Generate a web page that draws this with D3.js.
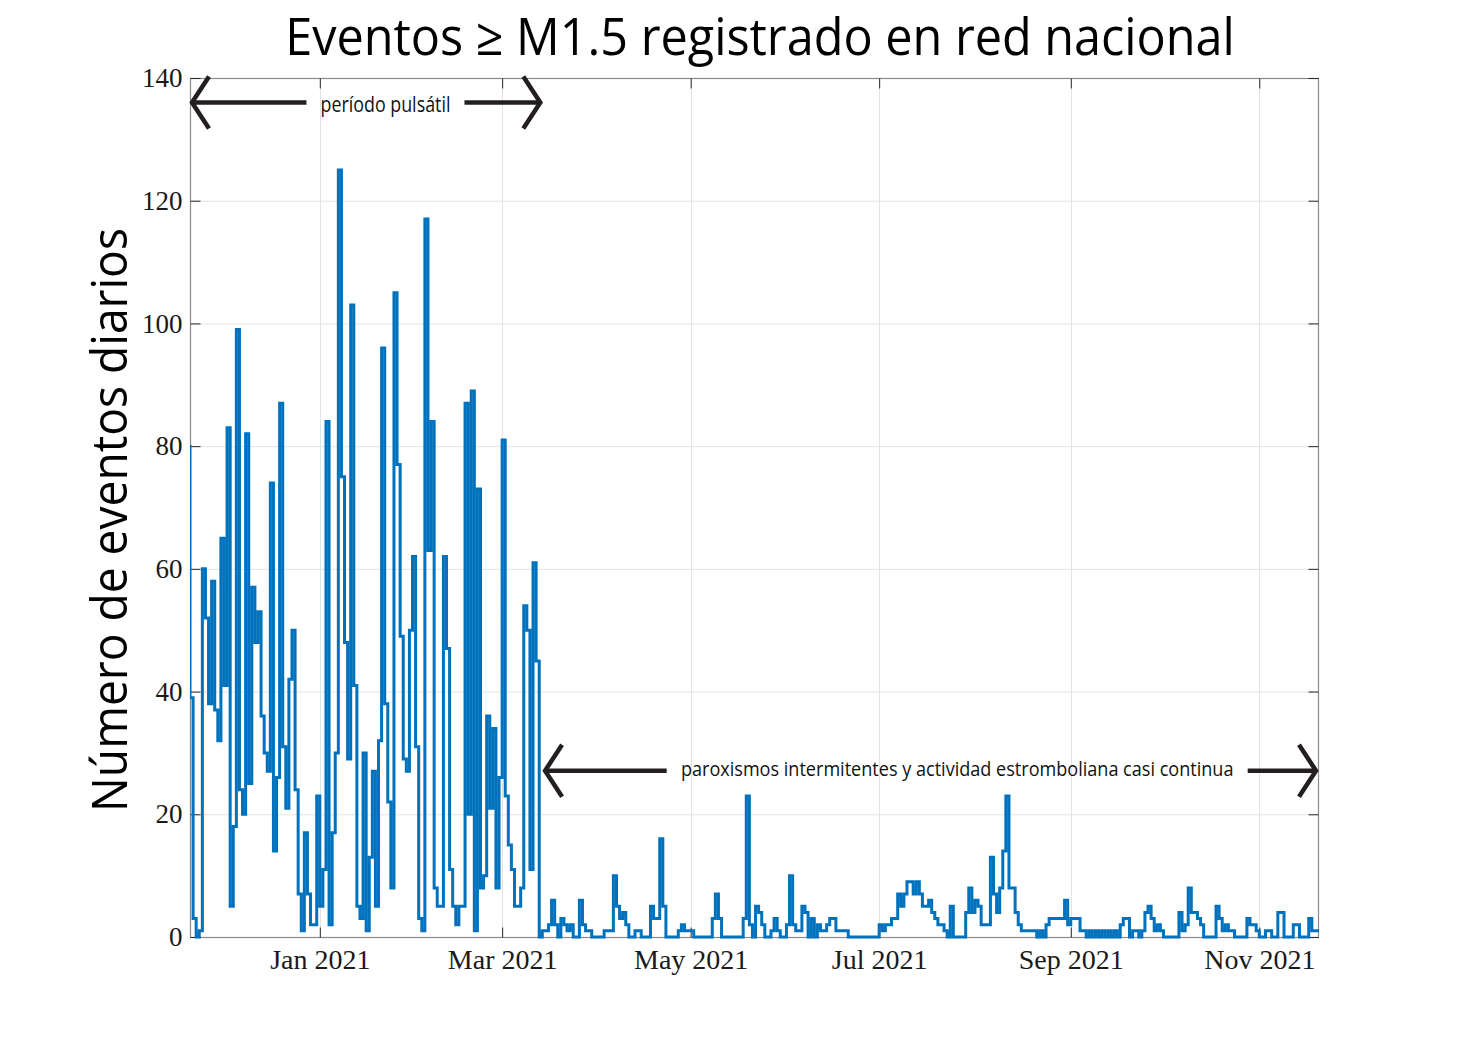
<!DOCTYPE html>
<html>
<head>
<meta charset="utf-8">
<script src="https://cdn.jsdelivr.net/npm/d3@7"></script>
<style>
  html, body { margin: 0; padding: 0; background: #ffffff; }
  svg { display: block; }
</style>
</head>
<body>
<svg id="chart" width="1458" height="1054"></svg>
<script>
// ---------------- data ----------------
const titleText = "Eventos \u2265 M1.5 registrado en red nacional";
const yAxisLabel = "Número de eventos diarios";

const firstDay = "2020-11-19";               // date of dailyCounts[0]
const xDomain = ["2020-11-20", "2021-11-20"];
const xTickDates = ["2021-01-01", "2021-03-01", "2021-05-01", "2021-07-01", "2021-09-01", "2021-11-01"];
const xTickLabels = ["Jan 2021", "Mar 2021", "May 2021", "Jul 2021", "Sep 2021", "Nov 2021"];
const yTicks = [0, 20, 40, 60, 80, 100, 120, 140];
const yDomain = [0, 140];

// daily number of events >= M1.5 (one value per day from firstDay)
const dailyCounts = [
  80,
  39, 3, 0, 1, 60, 52, 38, 58, 37, 32, 65, 41, 83, 5, 18, 99, 24, 20, 82, 25,
  57, 48, 53, 36, 30, 27, 74, 14, 26, 87, 31, 21, 42, 50, 24, 7, 1, 17, 7,
  2, 2, 23, 5, 11, 84, 2, 17, 30, 125, 75, 48, 29, 103, 41, 5, 3, 30, 1, 13,
  27, 5, 32, 96, 38, 22, 8, 105, 77, 49, 29, 27, 50, 62, 31, 3, 1,
  117, 63, 84, 8, 5, 5, 62, 47, 11, 5, 2, 5, 5, 87, 20, 89, 1, 73, 8, 10,
  36, 21, 34, 8, 26, 81, 23, 15, 11, 5, 5, 8, 54, 50, 11, 61, 45,
  0, 1, 1, 2, 6, 2, 0, 3, 2, 1, 2, 0, 0, 6, 2, 1, 1, 0, 0, 0,
  0, 1, 1, 1, 10, 5, 3, 4, 2, 0, 0, 1, 1, 0, 0, 0, 5, 3, 3, 16,
  5, 0, 0, 0, 0, 1, 2, 1, 1, 1, 0, 0, 0, 0, 0, 0, 3, 7, 3, 0,
  0, 0, 0, 0, 0, 0, 3, 23, 2, 0, 5, 4, 2, 0, 0, 1, 3, 1, 0, 0,
  2, 10, 2, 1, 1, 5, 4, 0, 3, 0, 2, 1, 1, 2, 3, 3, 1, 1, 1, 1,
  0, 0, 0, 0, 0, 0, 0, 0, 0, 0, 2, 1, 2, 2, 3, 3, 7, 5, 7, 9,
  9, 7, 9, 7, 5, 5, 6, 4, 3, 2, 2, 1, 0, 5, 0, 0, 0, 0, 4, 8,
  4, 6, 5, 2, 2, 2, 13, 7, 4, 8, 14, 23, 8, 8, 4, 2, 1, 1, 1, 1,
  1, 0, 1, 0, 2, 3, 3, 3, 3, 3, 6, 2, 3, 3, 3, 1, 1, 0, 1, 0,
  1, 0, 1, 0, 1, 0, 1, 0, 2, 3, 3, 0, 1, 1, 0, 1, 4, 5, 3, 1,
  2, 1, 0, 0, 0, 0, 0, 4, 1, 2, 8, 4, 4, 3, 2, 0, 0, 0, 0, 5,
  3, 1, 2, 1, 1, 0, 0, 0, 0, 3, 2, 2, 1, 0, 0, 1, 1, 0, 0, 4,
  4, 0, 0, 0, 2, 2, 0, 0, 0, 3, 1, 1, 1
];

// annotated periods
const periodLabels = ["período pulsátil", "paroxismos intermitentes y actividad estromboliana casi continua"];
const periodStarts = ["2020-11-20", "2021-03-14T06:00"];
const periodEnds = ["2021-03-14T00:00", "2021-11-20"];
const periodLevels = [136, 27.1];                    // arrow height, in events/day
const periodTextCenters = ["2021-01-22T06:00", "2021-07-26T06:00"];
const periodTextWidths = [130, 553];

// ---------------- layout ----------------
const svg = d3.select("#chart");
const W = 1458, H = 1054;
const plot = { left: 190, right: 1318, top: 78, bottom: 937 };
const parse = d3.isoParse;

const x = d3.scaleUtc().domain(xDomain.map(parse)).range([plot.left, plot.right]);
const y = d3.scaleLinear().domain(yDomain).range([plot.bottom, plot.top]);

const sansFont = "'Open Sans', 'Noto Sans', sans-serif";
const serifFont = "'Liberation Serif', 'DejaVu Serif', serif";

// narrow text: fixed glyph height, compressed horizontally to a target width
function narrowText(parent, str, cx, baseline, size, targetWidth, rotate) {
  const g = parent.append("g");
  const t = g.append("text")
    .attr("x", 0).attr("y", 0)
    .attr("text-anchor", "middle")
    .attr("font-family", sansFont)
    .attr("font-size", size)
    .attr("fill", "#000")
    .text(str);
  const w = t.node().getComputedTextLength();
  const s = Math.min(1.15, targetWidth / w);
  g.attr("transform", `translate(${cx},${baseline})${rotate ? " rotate(-90)" : ""} scale(${s},1)`);
  return g;
}

svg.append("rect").attr("width", W).attr("height", H).attr("fill", "#ffffff");

// grid
const grid = svg.append("g").attr("stroke", "#e3e3e3").attr("stroke-width", 1);
grid.selectAll("line.gy").data(yTicks).join("line")
  .attr("x1", plot.left).attr("x2", plot.right)
  .attr("y1", d => y(d) + 0.5).attr("y2", d => y(d) + 0.5);
grid.selectAll("line.gx").data(xTickDates).join("line")
  .attr("x1", d => Math.round(x(parse(d))) + 0.5).attr("x2", d => Math.round(x(parse(d))) + 0.5)
  .attr("y1", plot.top).attr("y2", plot.bottom);

// box
svg.append("rect")
  .attr("x", plot.left + 0.5).attr("y", plot.top + 0.5)
  .attr("width", plot.right - plot.left).attr("height", plot.bottom - plot.top)
  .attr("fill", "none").attr("stroke", "#8a8a8a").attr("stroke-width", 1.2);

// axes with D3 axis generators (ticks drawn inward)
const tickLen = 10;
const xAxisBottom = d3.axisBottom(x)
  .tickValues(xTickDates.map(parse))
  .tickFormat((d, i) => xTickLabels[i])
  .tickSizeInner(-tickLen).tickSizeOuter(0).tickPadding(12);
const gxb = svg.append("g").attr("transform", `translate(0,${plot.bottom + 0.5})`).call(xAxisBottom);
gxb.select(".domain").remove();
gxb.selectAll(".tick line").attr("stroke", "#262626");
gxb.selectAll(".tick text")
  .attr("font-family", serifFont).attr("font-size", 28).attr("fill", "#1a1a1a");

const xAxisTop = d3.axisTop(x).tickValues(xTickDates.map(parse)).tickFormat("")
  .tickSizeInner(-tickLen).tickSizeOuter(0);
const gxt = svg.append("g").attr("transform", `translate(0,${plot.top + 0.5})`).call(xAxisTop);
gxt.select(".domain").remove();
gxt.selectAll(".tick line").attr("stroke", "#262626");

const yAxisLeft = d3.axisLeft(y).tickValues(yTicks).tickFormat(d3.format("d"))
  .tickSizeInner(-tickLen).tickSizeOuter(0).tickPadding(8);
const gyl = svg.append("g").attr("transform", `translate(${plot.left + 0.5},0)`).call(yAxisLeft);
gyl.select(".domain").remove();
gyl.selectAll(".tick line").attr("stroke", "#262626");
gyl.selectAll(".tick text")
  .attr("font-family", serifFont).attr("font-size", 27).attr("fill", "#1a1a1a");

const yAxisRight = d3.axisRight(y).tickValues(yTicks).tickFormat("")
  .tickSizeInner(-tickLen).tickSizeOuter(0);
const gyr = svg.append("g").attr("transform", `translate(${plot.right + 0.5},0)`).call(yAxisRight);
gyr.select(".domain").remove();
gyr.selectAll(".tick line").attr("stroke", "#262626");

// data line (stairs)
const day0 = parse(firstDay);
const series = dailyCounts.map((v, i) => ({ date: d3.utcDay.offset(day0, i), value: v }));
series.push({ date: d3.utcDay.offset(day0, dailyCounts.length), value: dailyCounts[dailyCounts.length - 1] });

svg.append("clipPath").attr("id", "plotClip").append("rect")
  .attr("x", plot.left).attr("y", plot.top - 2)
  .attr("width", plot.right - plot.left + 1).attr("height", plot.bottom - plot.top + 4);

const line = d3.line()
  .x(d => x(d.date))
  .y(d => y(d.value))
  .curve(d3.curveStepAfter);

svg.append("path")
  .datum(series)
  .attr("clip-path", "url(#plotClip)")
  .attr("fill", "none")
  .attr("stroke", "#0072BD")
  .attr("stroke-width", 3)
  .attr("stroke-linejoin", "miter")
  .attr("d", line);

// period annotations
const annot = svg.append("g");
const arrowColor = "#231f20";
const annotSizes = [22.5, 20.5];
const annotBaseOffsets = [9, 5];
periodLabels.forEach((label, i) => {
  const ly = y(periodLevels[i]);
  const x0 = x(parse(periodStarts[i]));
  const x1 = x(parse(periodEnds[i]));
  const xc = x(parse(periodTextCenters[i]));
  narrowText(annot, label, xc, ly + annotBaseOffsets[i], annotSizes[i], periodTextWidths[i], false)
    .select("text").attr("fill", "#111");
  const half = periodTextWidths[i] / 2;
  const gap = 14;
  annot.append("line").attr("x1", x0 + 2).attr("x2", xc - half - gap)
    .attr("y1", ly).attr("y2", ly).attr("stroke", arrowColor).attr("stroke-width", 4.5);
  annot.append("line").attr("x1", xc + half + gap).attr("x2", x1 - 2)
    .attr("y1", ly).attr("y2", ly).attr("stroke", arrowColor).attr("stroke-width", 4.5);
  annot.append("path")
    .attr("d", `M${x0 + 19},${ly - 26} L${x0 + 2},${ly} L${x0 + 19},${ly + 26}`)
    .attr("fill", "none").attr("stroke", arrowColor).attr("stroke-width", 4.5)
    .attr("stroke-linejoin", "miter").attr("stroke-miterlimit", 10);
  annot.append("path")
    .attr("d", `M${x1 - 19},${ly - 26} L${x1 - 2},${ly} L${x1 - 19},${ly + 26}`)
    .attr("fill", "none").attr("stroke", arrowColor).attr("stroke-width", 4.5)
    .attr("stroke-linejoin", "miter").attr("stroke-miterlimit", 10);
});

// title
narrowText(svg, titleText, 760, 55, 52, 950, false);

// y axis label
narrowText(svg, yAxisLabel, 127, 520, 50, 584, true);
</script>
</body>
</html>
